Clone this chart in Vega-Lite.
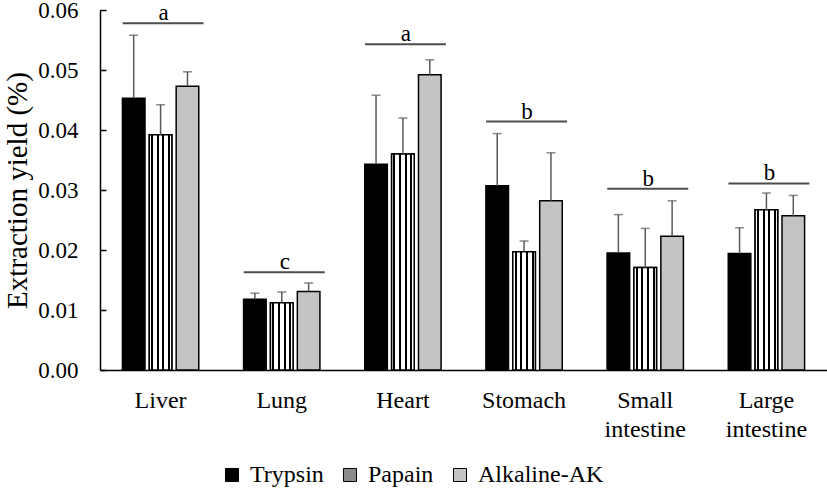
{
  "$schema": "https://vega.github.io/schema/vega-lite/v6.json",
  "width": 727,
  "height": 360,
  "autosize": {"type": "none"},
  "padding": {"left": 100, "top": 10, "right": 0, "bottom": 121},
  "background": "white",
  "config": {
    "view": {"stroke": null},
    "font": "Liberation Serif",
    "text": {"font": "Liberation Serif"},
    "axis": {"labelFont": "Liberation Serif", "titleFont": "Liberation Serif", "labelColor": "black", "titleColor": "black"},
    "legend": {"labelFont": "Liberation Serif", "titleFont": "Liberation Serif"}
  },
  "datasets": {
    "bars": [
      {"organ": "Liver", "method": "Trypsin", "value": 0.0453, "upper": 0.0558},
      {"organ": "Liver", "method": "Papain", "value": 0.0392, "upper": 0.0442},
      {"organ": "Liver", "method": "Alkaline-AK", "value": 0.0473, "upper": 0.0497},
      {"organ": "Lung", "method": "Trypsin", "value": 0.0118, "upper": 0.0128},
      {"organ": "Lung", "method": "Papain", "value": 0.0112, "upper": 0.0130},
      {"organ": "Lung", "method": "Alkaline-AK", "value": 0.0131, "upper": 0.0145},
      {"organ": "Heart", "method": "Trypsin", "value": 0.0343, "upper": 0.0458},
      {"organ": "Heart", "method": "Papain", "value": 0.0360, "upper": 0.0420},
      {"organ": "Heart", "method": "Alkaline-AK", "value": 0.0492, "upper": 0.0517},
      {"organ": "Stomach", "method": "Trypsin", "value": 0.0307, "upper": 0.0394},
      {"organ": "Stomach", "method": "Papain", "value": 0.0197, "upper": 0.0215},
      {"organ": "Stomach", "method": "Alkaline-AK", "value": 0.0282, "upper": 0.0362},
      {"organ": "Small intestine", "method": "Trypsin", "value": 0.0195, "upper": 0.0259},
      {"organ": "Small intestine", "method": "Papain", "value": 0.0171, "upper": 0.0236},
      {"organ": "Small intestine", "method": "Alkaline-AK", "value": 0.0223, "upper": 0.0282},
      {"organ": "Large intestine", "method": "Trypsin", "value": 0.0194, "upper": 0.0237},
      {"organ": "Large intestine", "method": "Papain", "value": 0.0267, "upper": 0.0295},
      {"organ": "Large intestine", "method": "Alkaline-AK", "value": 0.0257, "upper": 0.0291}
    ],
    "letters": [
      {"organ": "Liver", "letter": "a", "level": 0.0578},
      {"organ": "Lung", "letter": "c", "level": 0.0163},
      {"organ": "Heart", "letter": "a", "level": 0.0543},
      {"organ": "Stomach", "letter": "b", "level": 0.0414},
      {"organ": "Small intestine", "letter": "b", "level": 0.0302},
      {"organ": "Large intestine", "letter": "b", "level": 0.0311}
    ]
  },
  "data": {"name": "bars"},
  "encoding": {
    "x": {
      "field": "organ", "type": "nominal",
      "sort": ["Liver", "Lung", "Heart", "Stomach", "Small intestine", "Large intestine"],
      "scale": {"domain": ["Liver", "Lung", "Heart", "Stomach", "Small intestine", "Large intestine"], "paddingInner": 0.37, "paddingOuter": 0.185},
      "axis": {
        "title": null, "labelAngle": 0, "ticks": false, "labelFontSize": 24, "labelPadding": 18,
        "labelFont": "Liberation Serif", "labelColor": "black",
        "labelLineHeight": 29, "labelExpr": "split(datum.label, ' ')",
        "domainColor": "black", "domainWidth": 1.5
      }
    }
  },
  "layer": [
    {
      "mark": {"type": "bar", "stroke": "black", "strokeWidth": 1.5},
      "encoding": {
        "xOffset": {"field": "method", "type": "nominal", "scale": {"domain": ["Trypsin", "Papain", "Alkaline-AK"], "paddingInner": 0.16}},
        "y": {
          "field": "value", "type": "quantitative",
          "scale": {"domain": [0, 0.06], "nice": false},
          "axis": {
            "title": "Extraction yield (%)", "titleFontSize": 29, "titleFontWeight": "normal", "titlePadding": 5,
            "titleFont": "Liberation Serif", "titleColor": "black",
            "labelFont": "Liberation Serif", "labelColor": "black",
            "values": [0, 0.01, 0.02, 0.03, 0.04, 0.05, 0.06], "format": ".2f",
            "labelFontSize": 23, "labelPadding": 28, "tickSize": -6, "tickColor": "black", "tickWidth": 1.5,
            "domainColor": "black", "domainWidth": 1.5, "grid": false
          }
        },
        "fill": {
          "field": "method", "type": "nominal",
          "scale": {"domain": ["Trypsin", "Papain", "Alkaline-AK"], "range": ["#000000", "#8a8a8a", "#c4c4c4"]},
          "legend": {
            "title": null, "orient": "none", "direction": "horizontal", "legendX": 120, "legendY": 453, "padding": 0,
            "symbolType": "square", "symbolSize": 170, "symbolStrokeColor": "black", "symbolStrokeWidth": 1,
            "labelFont": "Liberation Serif", "labelFontSize": 24, "labelColor": "black", "labelOffset": 6, "columnPadding": 14
          }
        }
      }
    },
    {
      "transform": [{"filter": "datum.method === 'Papain'"}],
      "mark": {
        "type": "bar", "stroke": "black", "strokeWidth": 1.5,
        "fill": {
          "gradient": "linear", "x1": 0, "y1": 0, "x2": 1, "y2": 0,
          "stops": [
            {"offset": 0, "color": "white"}, {"offset": 0.08, "color": "white"},
            {"offset": 0.08, "color": "black"}, {"offset": 0.17, "color": "black"},
            {"offset": 0.17, "color": "white"}, {"offset": 0.33, "color": "white"},
            {"offset": 0.33, "color": "black"}, {"offset": 0.42, "color": "black"},
            {"offset": 0.42, "color": "white"}, {"offset": 0.58, "color": "white"},
            {"offset": 0.58, "color": "black"}, {"offset": 0.67, "color": "black"},
            {"offset": 0.67, "color": "white"}, {"offset": 0.83, "color": "white"},
            {"offset": 0.83, "color": "black"}, {"offset": 0.92, "color": "black"},
            {"offset": 0.92, "color": "white"}, {"offset": 1, "color": "white"}
          ]
        }
      },
      "encoding": {
        "xOffset": {"field": "method", "type": "nominal"},
        "y": {"field": "value", "type": "quantitative"}
      }
    },
    {
      "mark": {"type": "rule", "color": "#595959", "strokeWidth": 1.5},
      "encoding": {
        "xOffset": {"field": "method", "type": "nominal"},
        "y": {"field": "value", "type": "quantitative"},
        "y2": {"field": "upper"}
      }
    },
    {
      "mark": {"type": "tick", "color": "#595959", "size": 9, "thickness": 1.5, "orient": "horizontal"},
      "encoding": {
        "xOffset": {"field": "method", "type": "nominal"},
        "y": {"field": "upper", "type": "quantitative"}
      }
    },
    {
      "data": {"name": "letters"},
      "mark": {"type": "tick", "color": "black", "size": 81, "thickness": 2, "orient": "horizontal", "xOffset": 2.5},
      "encoding": {
        "y": {"field": "level", "type": "quantitative"}
      }
    },
    {
      "data": {"name": "letters"},
      "mark": {"type": "text", "fontSize": 23, "baseline": "alphabetic", "dy": -3, "dx": 3, "color": "black", "font": "Liberation Serif"},
      "encoding": {
        "y": {"field": "level", "type": "quantitative"},
        "text": {"field": "letter"}
      }
    }
  ]
}
